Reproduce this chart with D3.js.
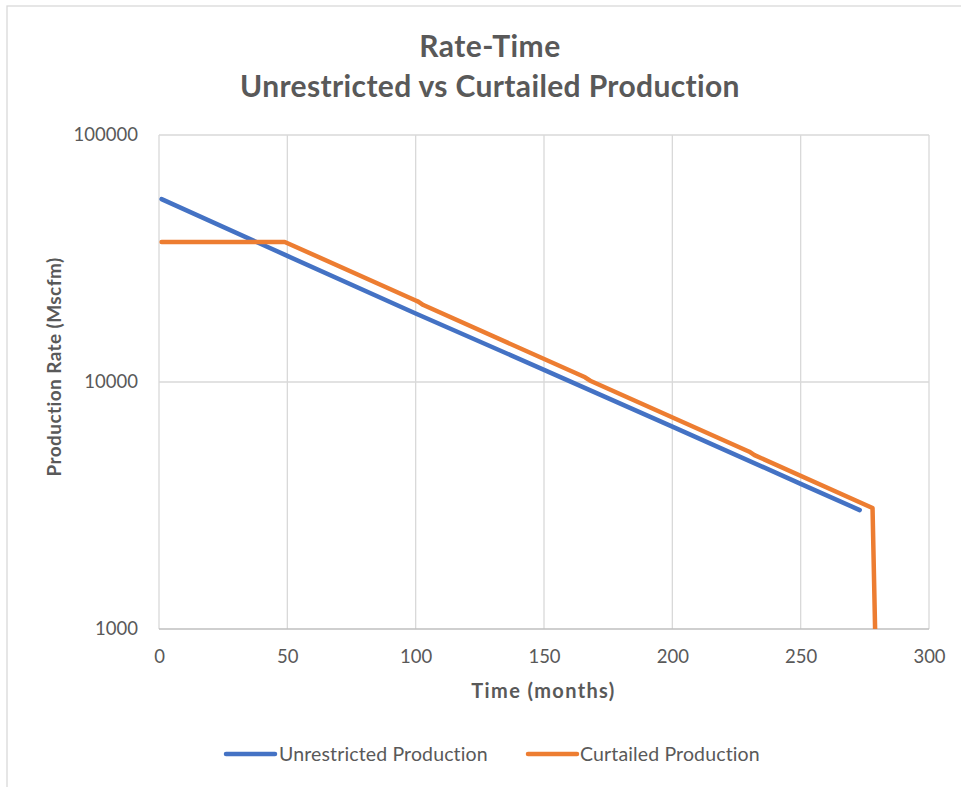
<!DOCTYPE html>
<html>
<head>
<meta charset="utf-8">
<script src="https://cdn.jsdelivr.net/npm/d3@7"></script>
<style>
  html, body { margin: 0; padding: 0; background: #fff; }
  svg { display: block; }
  text { font-family: Lato, "Open Sans", sans-serif; fill: #595959; }
</style>
</head>
<body>
<svg id="chart" width="961" height="787"></svg>
<script>
// ---- Data ----
const titleLines = ["Rate-Time", "Unrestricted vs Curtailed Production"];
const xLabel = "Time (months)";
const yLabel = "Production Rate (Mscfm)";
const seriesNames = ["Unrestricted Production", "Curtailed Production"];
const seriesColors = ["#4472C4", "#ED7D31"];

const unrestrictedT = [1, 50, 100, 150, 200, 250, 273];
const unrestrictedQ = [55000, 32400, 18950, 11200, 6600, 3870, 3030];

const curtailedT = [1, 49, 100, 101, 103, 166, 168, 230, 232, 278, 279];
const curtailedQ = [36900, 36900, 21380, 21150, 20490, 10450, 10120, 5220, 5060, 3090, 1000];

const xTicks = [0, 50, 100, 150, 200, 250, 300];
const yTicks = [1000, 10000, 100000];

// ---- Layout ----
const svg = d3.select("#chart");
const plot = { left: 159, right: 929, top: 135, bottom: 629 };

const x = d3.scaleLinear().domain([0, 300]).range([plot.left, plot.right]);
const y = d3.scaleLog().domain([1000, 100000]).range([plot.bottom, plot.top]);

// fit a text element to a target width by spacing
function fit(sel, target) {
  const len = sel.node().getComputedTextLength();
  const n = sel.text().length;
  if (n > 1) sel.style("letter-spacing", ((target - len) / (n - 1)) + "px");
  return sel;
}

// outer chart border
svg.append("rect")
  .attr("x", 7).attr("y", 6).attr("width", 980).attr("height", 800)
  .attr("fill", "none").attr("stroke", "#d9d9d9").attr("stroke-width", 1.3);

// gridlines
const grid = svg.append("g");
grid.selectAll("line.v").data(xTicks).join("line")
  .attr("x1", d => x(d)).attr("x2", d => x(d))
  .attr("y1", plot.top).attr("y2", plot.bottom)
  .attr("stroke", "#d9d9d9").attr("stroke-width", 1.3);
grid.selectAll("line.h").data(yTicks).join("line")
  .attr("x1", plot.left).attr("x2", plot.right)
  .attr("y1", d => y(d)).attr("y2", d => y(d))
  .attr("stroke", d => d === 1000 ? "#bfbfbf" : "#d9d9d9").attr("stroke-width", 1.3);

// axes (labels only, via d3 axes)
const xAxis = svg.append("g").attr("transform", `translate(0,${plot.bottom})`)
  .call(d3.axisBottom(x).tickValues(xTicks).tickSize(0).tickPadding(21).tickFormat(d3.format("d")));
const yAxis = svg.append("g").attr("transform", `translate(${plot.left},0)`)
  .call(d3.axisLeft(y).tickValues(yTicks).tickSize(0).tickPadding(21).tickFormat(d3.format("d")));
[xAxis, yAxis].forEach(a => {
  a.select(".domain").remove();
  a.selectAll("text").style("font-family", "Lato, 'Open Sans', sans-serif")
    .style("font-size", "18.5px").attr("fill", "#595959");
});

// lines
svg.append("clipPath").attr("id", "plotclip").append("rect")
  .attr("x", plot.left - 5).attr("y", plot.top - 5)
  .attr("width", plot.right - plot.left + 10).attr("height", plot.bottom - plot.top + 5);

const line = d3.line().x(d => x(d[0])).y(d => y(d[1]));
const series = [
  d3.zip(unrestrictedT, unrestrictedQ),
  d3.zip(curtailedT, curtailedQ)
];
const lg = svg.append("g").attr("clip-path", "url(#plotclip)");
series.forEach((s, i) => {
  lg.append("path").datum(s)
    .attr("d", line)
    .attr("fill", "none")
    .attr("stroke", seriesColors[i])
    .attr("stroke-width", 4.5)
    .attr("stroke-linejoin", "round")
    .attr("stroke-linecap", "round");
});

// title
fit(svg.append("text").attr("x", 490).attr("y", 57).attr("text-anchor", "middle")
  .style("font-size", "30px").style("font-weight", "bold").text(titleLines[0]), 141);
fit(svg.append("text").attr("x", 490).attr("y", 97).attr("text-anchor", "middle")
  .style("font-size", "30px").style("font-weight", "bold").text(titleLines[1]), 500);

// axis titles
fit(svg.append("text").attr("x", 543.5).attr("y", 698)
  .attr("text-anchor", "middle").style("font-size", "20px").style("font-weight", "bold").text(xLabel), 143);
fit(svg.append("text").attr("transform", `translate(61,367) rotate(-90)`)
  .attr("text-anchor", "middle").style("font-size", "19px").style("font-weight", "bold").text(yLabel), 219);

// legend
const legendY = 754;
const legendItems = [
  { x1: 226, x2: 275, tx: 279, w: 209 },
  { x1: 528, x2: 577, tx: 580, w: 180 }
];
legendItems.forEach((it, i) => {
  svg.append("line").attr("x1", it.x1).attr("x2", it.x2)
    .attr("y1", legendY).attr("y2", legendY)
    .attr("stroke", seriesColors[i]).attr("stroke-width", 4.5).attr("stroke-linecap", "round");
  fit(svg.append("text").attr("x", it.tx).attr("y", legendY).attr("dy", "0.35em")
    .style("font-size", "19.5px").text(seriesNames[i]), it.w);
});
</script>
</body>
</html>
